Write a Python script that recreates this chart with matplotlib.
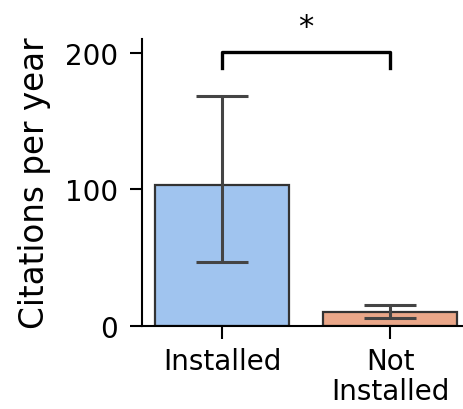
import matplotlib
matplotlib.use("Agg")
import matplotlib.pyplot as plt

groups = ["Installed", "Not\nInstalled"]
means = [103, 10]
err_low = [46.5, 5.5]
err_high = [168, 15.5]
colors = ["#a0c4ef", "#eaa789"]

fig = plt.figure(figsize=(4.64, 4.10), dpi=100)
ax = fig.add_axes([0.305, 0.2024, 0.717, 0.700])

x = list(range(len(groups)))
yerr = [[m - lo for m, lo in zip(means, err_low)],
        [hi - m for m, hi in zip(means, err_high)]]
ax.bar(x, means, width=0.8, color=colors, edgecolor="#333333", linewidth=1.6, zorder=2)
ax.errorbar(x, means, yerr=yerr, fmt="none", ecolor="#444444", elinewidth=2.2,
            capsize=19, capthick=2.2, zorder=3)

ax.set_xlim(-0.48, 1.5)
ax.set_ylim(0, 210)
ax.set_yticks([0, 100, 200])
ax.set_xticks(x)
ax.set_xticklabels(groups, fontsize=20, linespacing=1.1)
ax.tick_params(axis="y", labelsize=20, length=9, width=1.5, pad=8)
ax.tick_params(axis="x", length=9, width=1.5, pad=6)
ax.set_ylabel("Citations per year", fontsize=23.5, labelpad=10)
for s in ["top", "right"]:
    ax.spines[s].set_visible(False)
for s in ["left", "bottom"]:
    ax.spines[s].set_linewidth(1.5)

# significance bracket
ax.plot([0, 0, 1, 1], [189, 200.5, 200.5, 189], color="black", lw=2.4, clip_on=False)
ax.text(0.5, 219, "*", ha="center", va="center", fontsize=22, clip_on=False)

fig.savefig("out.png", dpi=100)
